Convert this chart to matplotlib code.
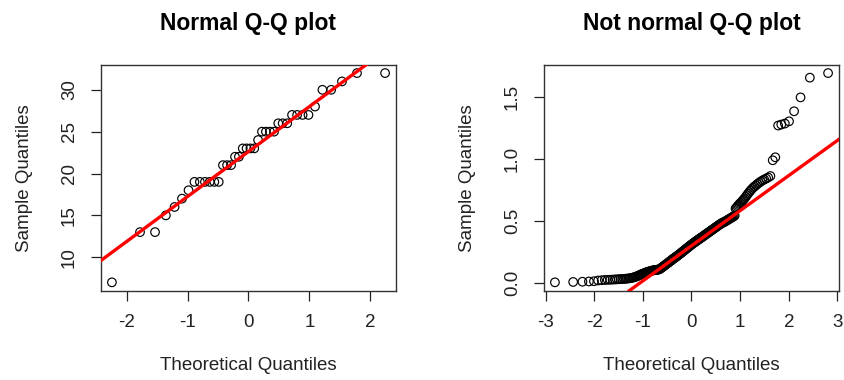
import matplotlib
matplotlib.use("Agg")
import matplotlib.pyplot as plt
import numpy as np
from statistics import NormalDist

plt.rcParams["font.family"] = ["Liberation Sans", "DejaVu Sans"]
plt.rcParams["axes.unicode_minus"] = False

# sorted sample values, roughly normal set (n = 40)
normal_sample = [
    7, 13, 13, 15, 16, 17, 18, 19, 19, 19,
    19, 19, 19, 21, 21, 21, 22, 22, 23, 23,
    23, 23, 24, 25, 25, 25, 25, 26, 26, 26,
    27, 27, 27, 27, 28, 30, 30, 31, 32, 32,
]

# sorted sample values, right-skewed set (n = 200)
skewed_sample = [
    0.003, 0.006, 0.008, 0.010, 0.012, 0.018, 0.020, 0.022, 0.023, 0.024,
    0.025, 0.026, 0.027, 0.028, 0.029, 0.030, 0.031, 0.032, 0.033, 0.034,
    0.036, 0.038, 0.040, 0.043, 0.046, 0.049, 0.053, 0.057, 0.061, 0.065,
    0.069, 0.072, 0.075, 0.078, 0.081, 0.084, 0.087, 0.089, 0.091, 0.093,
    0.095, 0.097, 0.099, 0.100, 0.101, 0.102, 0.103, 0.104, 0.105, 0.106,
    0.107, 0.111, 0.115, 0.119, 0.124, 0.128, 0.132, 0.137, 0.141, 0.146,
    0.150, 0.154, 0.158, 0.162, 0.167, 0.171, 0.175, 0.179, 0.183, 0.188,
    0.192, 0.195, 0.199, 0.203, 0.207, 0.211, 0.214, 0.218, 0.222, 0.226,
    0.230, 0.234, 0.238, 0.242, 0.246, 0.250, 0.254, 0.258, 0.262, 0.266,
    0.270, 0.274, 0.278, 0.282, 0.286, 0.290, 0.294, 0.298, 0.302, 0.305,
    0.309, 0.313, 0.317, 0.320, 0.324, 0.327, 0.331, 0.334, 0.338, 0.341,
    0.345, 0.348, 0.352, 0.355, 0.359, 0.362, 0.366, 0.369, 0.373, 0.376,
    0.380, 0.384, 0.387, 0.391, 0.395, 0.398, 0.402, 0.406, 0.409, 0.413,
    0.417, 0.421, 0.425, 0.428, 0.432, 0.436, 0.440, 0.444, 0.448, 0.452,
    0.456, 0.460, 0.464, 0.468, 0.472, 0.476, 0.480, 0.483, 0.486, 0.488,
    0.491, 0.495, 0.499, 0.503, 0.507, 0.511, 0.515, 0.519, 0.523, 0.527,
    0.531, 0.536, 0.541, 0.598, 0.605, 0.615, 0.625, 0.634, 0.642, 0.650,
    0.660, 0.670, 0.680, 0.692, 0.705, 0.718, 0.731, 0.743, 0.755, 0.766,
    0.776, 0.786, 0.796, 0.806, 0.815, 0.824, 0.832, 0.840, 0.848, 0.860,
    0.987, 1.011, 1.267, 1.275, 1.283, 1.301, 1.382, 1.494, 1.653, 1.690,
]

titles = ["Normal Q-Q plot", "Not normal Q-Q plot"]
xticks = [[-2, -1, 0, 1, 2], [-3, -2, -1, 0, 1, 2, 3]]
yticks = [[10, 15, 20, 25, 30], [0.0, 0.5, 1.0, 1.5]]
ytick_fmt = ["{:g}", "{:.1f}"]

FS = 13.5


def ppoints(n):
    a = 3 / 8 if n <= 10 else 0.5
    return (np.arange(1, n + 1) - a) / (n + 1 - 2 * a)


def theoretical(n):
    nd = NormalDist()
    return np.array([nd.inv_cdf(p) for p in ppoints(n)])


def r_range(v):
    lo, hi = min(v), max(v)
    d = (hi - lo) * 0.04
    return lo - d, hi + d


def qq_panel(ax, sample, title, xt, yt, yfmt):
    y = np.sort(np.asarray(sample, dtype=float))
    x = theoretical(len(y))
    ax.scatter(x, y, s=38, facecolors="none", edgecolors="black",
               linewidths=0.85, zorder=3)

    # reference line through the first and third quartiles
    q1, q3 = np.quantile(y, [0.25, 0.75])
    t1, t3 = NormalDist().inv_cdf(0.25), NormalDist().inv_cdf(0.75)
    slope = (q3 - q1) / (t3 - t1)
    ax.axline((t1, q1), slope=slope, color="#ff0000", lw=2.4, zorder=4)

    ax.set_xlim(*r_range(x))
    ax.set_ylim(*r_range(y))
    ax.set_xticks(xt)
    ax.set_xticklabels([str(v) for v in xt])
    ax.set_yticks(yt)
    ax.set_yticklabels([yfmt.format(v) for v in yt])
    for lab in ax.get_yticklabels():
        lab.set_rotation(90)
        lab.set_va("center")
    ax.tick_params(direction="out", length=7.5, width=0.9, labelsize=FS,
                   colors="#222222", pad=9)
    for s in ax.spines.values():
        s.set_color("#333333")
        s.set_linewidth(1.0)

    ax.set_title(title, fontsize=16.5, fontweight="bold", pad=25)
    ax.set_xlabel("Theoretical Quantiles", fontsize=FS, color="#222222",
                  labelpad=19)
    ax.set_ylabel("Sample Quantiles", fontsize=FS, color="#222222",
                  labelpad=20)


fig = plt.figure(figsize=(8.44, 3.8), dpi=100)
ax1 = fig.add_axes([101 / 844, 1 - 290.7 / 380, 295 / 844, 226 / 380])
ax2 = fig.add_axes([544 / 844, 1 - 290.7 / 380, 295 / 844, 226 / 380])

qq_panel(ax1, normal_sample, titles[0], xticks[0], yticks[0], ytick_fmt[0])
qq_panel(ax2, skewed_sample, titles[1], xticks[1], yticks[1], ytick_fmt[1])

fig.savefig("out.png", dpi=100, facecolor="white")
